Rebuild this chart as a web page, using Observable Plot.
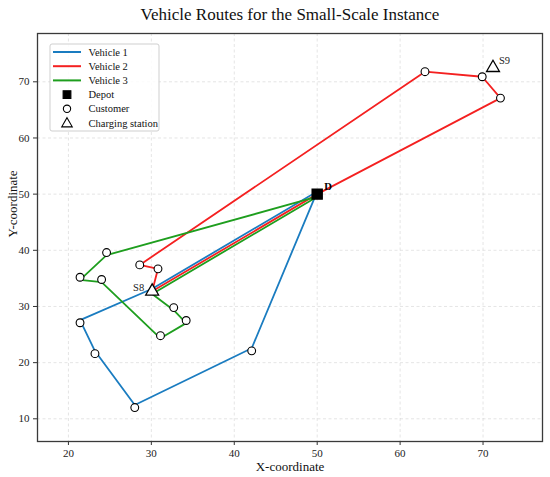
<!DOCTYPE html>
<html>
<head>
<meta charset="utf-8">
<script src="https://cdn.jsdelivr.net/npm/d3@7"></script>
<script src="https://cdn.jsdelivr.net/npm/@observablehq/plot@0.6"></script>
<style>
  html, body { margin: 0; padding: 0; background: #fff; }
  #chart { width: 550px; height: 477px; }
  svg { font-family: "Liberation Serif", "DejaVu Serif", serif; }
</style>
</head>
<body>
<div id="chart"></div>
<script>
// ---- data ----
const nodeIds   = ["D", "C1", "C2", "C3", "C4", "C5", "C6", "C7", "C8", "C9", "C10", "C11", "C12", "C13", "C14", "C15", "S8", "S9"];
const nodeX     = [50, 42.1, 28.0, 23.2, 21.4, 72.1, 69.9, 63.0, 28.6, 30.8, 24.6, 21.4, 24.0, 31.1, 34.2, 32.7, 30.1, 71.2];
const nodeY     = [50, 22.1, 12.0, 21.6, 27.1, 67.1, 70.9, 71.8, 37.4, 36.7, 39.6, 35.2, 34.8, 24.8, 27.5, 29.8, 32.7, 72.5];
const nodeTypes = ["Depot", "Customer", "Customer", "Customer", "Customer", "Customer", "Customer", "Customer", "Customer", "Customer", "Customer", "Customer", "Customer", "Customer", "Customer", "Customer", "Charging station", "Charging station"];

const vehicleNames  = ["Vehicle 1", "Vehicle 2", "Vehicle 3"];
const vehicleColors = ["#1a7cc0", "#f42020", "#1e9e1e"];
const route1 = ["D", "C1", "C2", "C3", "C4", "S8", "D"];
const route2 = ["D", "C5", "C6", "C7", "C8", "C9", "S8", "D"];
const route3 = ["D", "C10", "C11", "C12", "C13", "C14", "C15", "S8", "D"];
const routes = [route1, route2, route3];

const xTicks = [20, 30, 40, 50, 60, 70];
const yTicks = [10, 20, 30, 40, 50, 60, 70];

// ---- build tables ----
const nodes = nodeIds.map((id, i) => ({id, x: nodeX[i], y: nodeY[i], type: nodeTypes[i]}));
const byId = new Map(nodes.map(n => [n.id, n]));
const routeRows = routes.map((r, k) => r.map((id, j) => ({vehicle: vehicleNames[k], step: j, x: byId.get(id).x, y: byId.get(id).y})));

const customers = nodes.filter(n => n.type === "Customer");
const stations = nodes.filter(n => n.type === "Charging station");
const depots = nodes.filter(n => n.type === "Depot");

const lineOffsets = [-2.6, 0, 2.6];

const font = "Liberation Serif, DejaVu Serif, serif";

const plot = Plot.plot({
  width: 550,
  height: 477,
  marginLeft: 37,
  marginRight: 8,
  marginTop: 33,
  marginBottom: 36,
  style: {fontFamily: font, fontSize: "11px", color: "#222", background: "#fff"},
  x: {domain: [16.27, 77.17], ticks: xTicks, label: null},
  y: {domain: [5.96, 78.6], ticks: yTicks, label: null},
  marks: [
    Plot.gridX(xTicks, {stroke: "#c8c8c8", strokeOpacity: 0.6, strokeDasharray: "3,2.5", strokeWidth: 0.8}),
    Plot.gridY(yTicks, {stroke: "#c8c8c8", strokeOpacity: 0.6, strokeDasharray: "3,2.5", strokeWidth: 0.8}),
    ...routeRows.map((rows, k) => Plot.line(rows, {x: "x", y: "y", stroke: vehicleColors[k], strokeWidth: 1.8, dy: lineOffsets[k], curve: "linear"})),
    Plot.dot(customers, {x: "x", y: "y", r: 3.9, symbol: "circle", fill: "#fff", stroke: "#000", strokeWidth: 1.1}),
    Plot.dot(stations, {x: "x", y: "y", r: 4.8, symbol: "triangle", fill: "#fff", stroke: "#000", strokeWidth: 1.3}),
    Plot.dot(depots, {x: "x", y: "y", r: 5.6, symbol: "square", fill: "#000", stroke: "#000"}),
    Plot.text(stations.filter(d => d.id === "S8"), {x: "x", y: "y", text: "id", dx: -8, dy: -4, textAnchor: "end", fontSize: 10.5, fill: "#222"}),
    Plot.text(stations.filter(d => d.id === "S9"), {x: "x", y: "y", text: "id", dx: 6, dy: -7, textAnchor: "start", fontSize: 10.5, fill: "#222"}),
    Plot.text(depots, {x: "x", y: "y", text: "id", dx: 7, dy: -8, textAnchor: "start", fontSize: 10.5, fontWeight: "bold", fill: "#000"}),
    Plot.axisX(xTicks, {tickSize: 4, tickPadding: 4, fontSize: 11, stroke: "#333", fill: "#222"}),
    Plot.axisY(yTicks, {tickSize: 4, tickPadding: 4, fontSize: 11, stroke: "#333", fill: "#222"}),
    Plot.frame({stroke: "#3a3a3a", strokeWidth: 1.3}),
    Plot.text(["Vehicle Routes for the Small-Scale Instance"], {frameAnchor: "top", dy: -19, fontSize: 17, fill: "#111", lineAnchor: "middle"}),
    Plot.text(["X-coordinate"], {frameAnchor: "bottom", dy: 25, fontSize: 13, fill: "#111", lineAnchor: "middle"}),
    Plot.text(["Y-coordinate"], {frameAnchor: "left", dx: -25, rotate: -90, fontSize: 13, fill: "#111", lineAnchor: "middle"})
  ]
});

document.getElementById("chart").appendChild(plot);

// ---- legend (inside the SVG, top-left of the frame) ----
const svg = d3.select(plot);
const legendItems = [
  {label: vehicleNames[0], kind: "line", color: vehicleColors[0]},
  {label: vehicleNames[1], kind: "line", color: vehicleColors[1]},
  {label: vehicleNames[2], kind: "line", color: vehicleColors[2]},
  {label: "Depot", kind: "square"},
  {label: "Customer", kind: "circle"},
  {label: "Charging station", kind: "triangle"}
];
const lg = svg.append("g").attr("transform", "translate(50,44)");
lg.append("rect").attr("x", 0).attr("y", 0).attr("width", 109).attr("height", 87)
  .attr("rx", 2).attr("fill", "#fff").attr("fill-opacity", 0.85).attr("stroke", "#cfcfcf").attr("stroke-width", 1);
legendItems.forEach((it, i) => {
  const cy = 8 + i * 14.2;
  const g = lg.append("g");
  if (it.kind === "line") {
    g.append("line").attr("x1", 3).attr("x2", 31).attr("y1", cy).attr("y2", cy)
      .attr("stroke", it.color).attr("stroke-width", 2);
  } else {
    const sym = it.kind === "square" ? d3.symbolSquare : it.kind === "circle" ? d3.symbolCircle : d3.symbolTriangle;
    const size = it.kind === "square" ? 60 : it.kind === "circle" ? 42 : 48;
    g.append("path").attr("d", d3.symbol(sym, size)())
      .attr("transform", `translate(17,${cy + (it.kind === "triangle" ? 0.8 : 0)})`)
      .attr("fill", it.kind === "square" ? "#000" : "#fff")
      .attr("stroke", "#000").attr("stroke-width", 1.1);
  }
  g.append("text").attr("x", 38.5).attr("y", cy).attr("dy", "0.35em")
    .attr("text-anchor", "start")
    .attr("font-size", 10.5).attr("fill", "#111").attr("font-family", font).text(it.label);
});
</script>
</body>
</html>
